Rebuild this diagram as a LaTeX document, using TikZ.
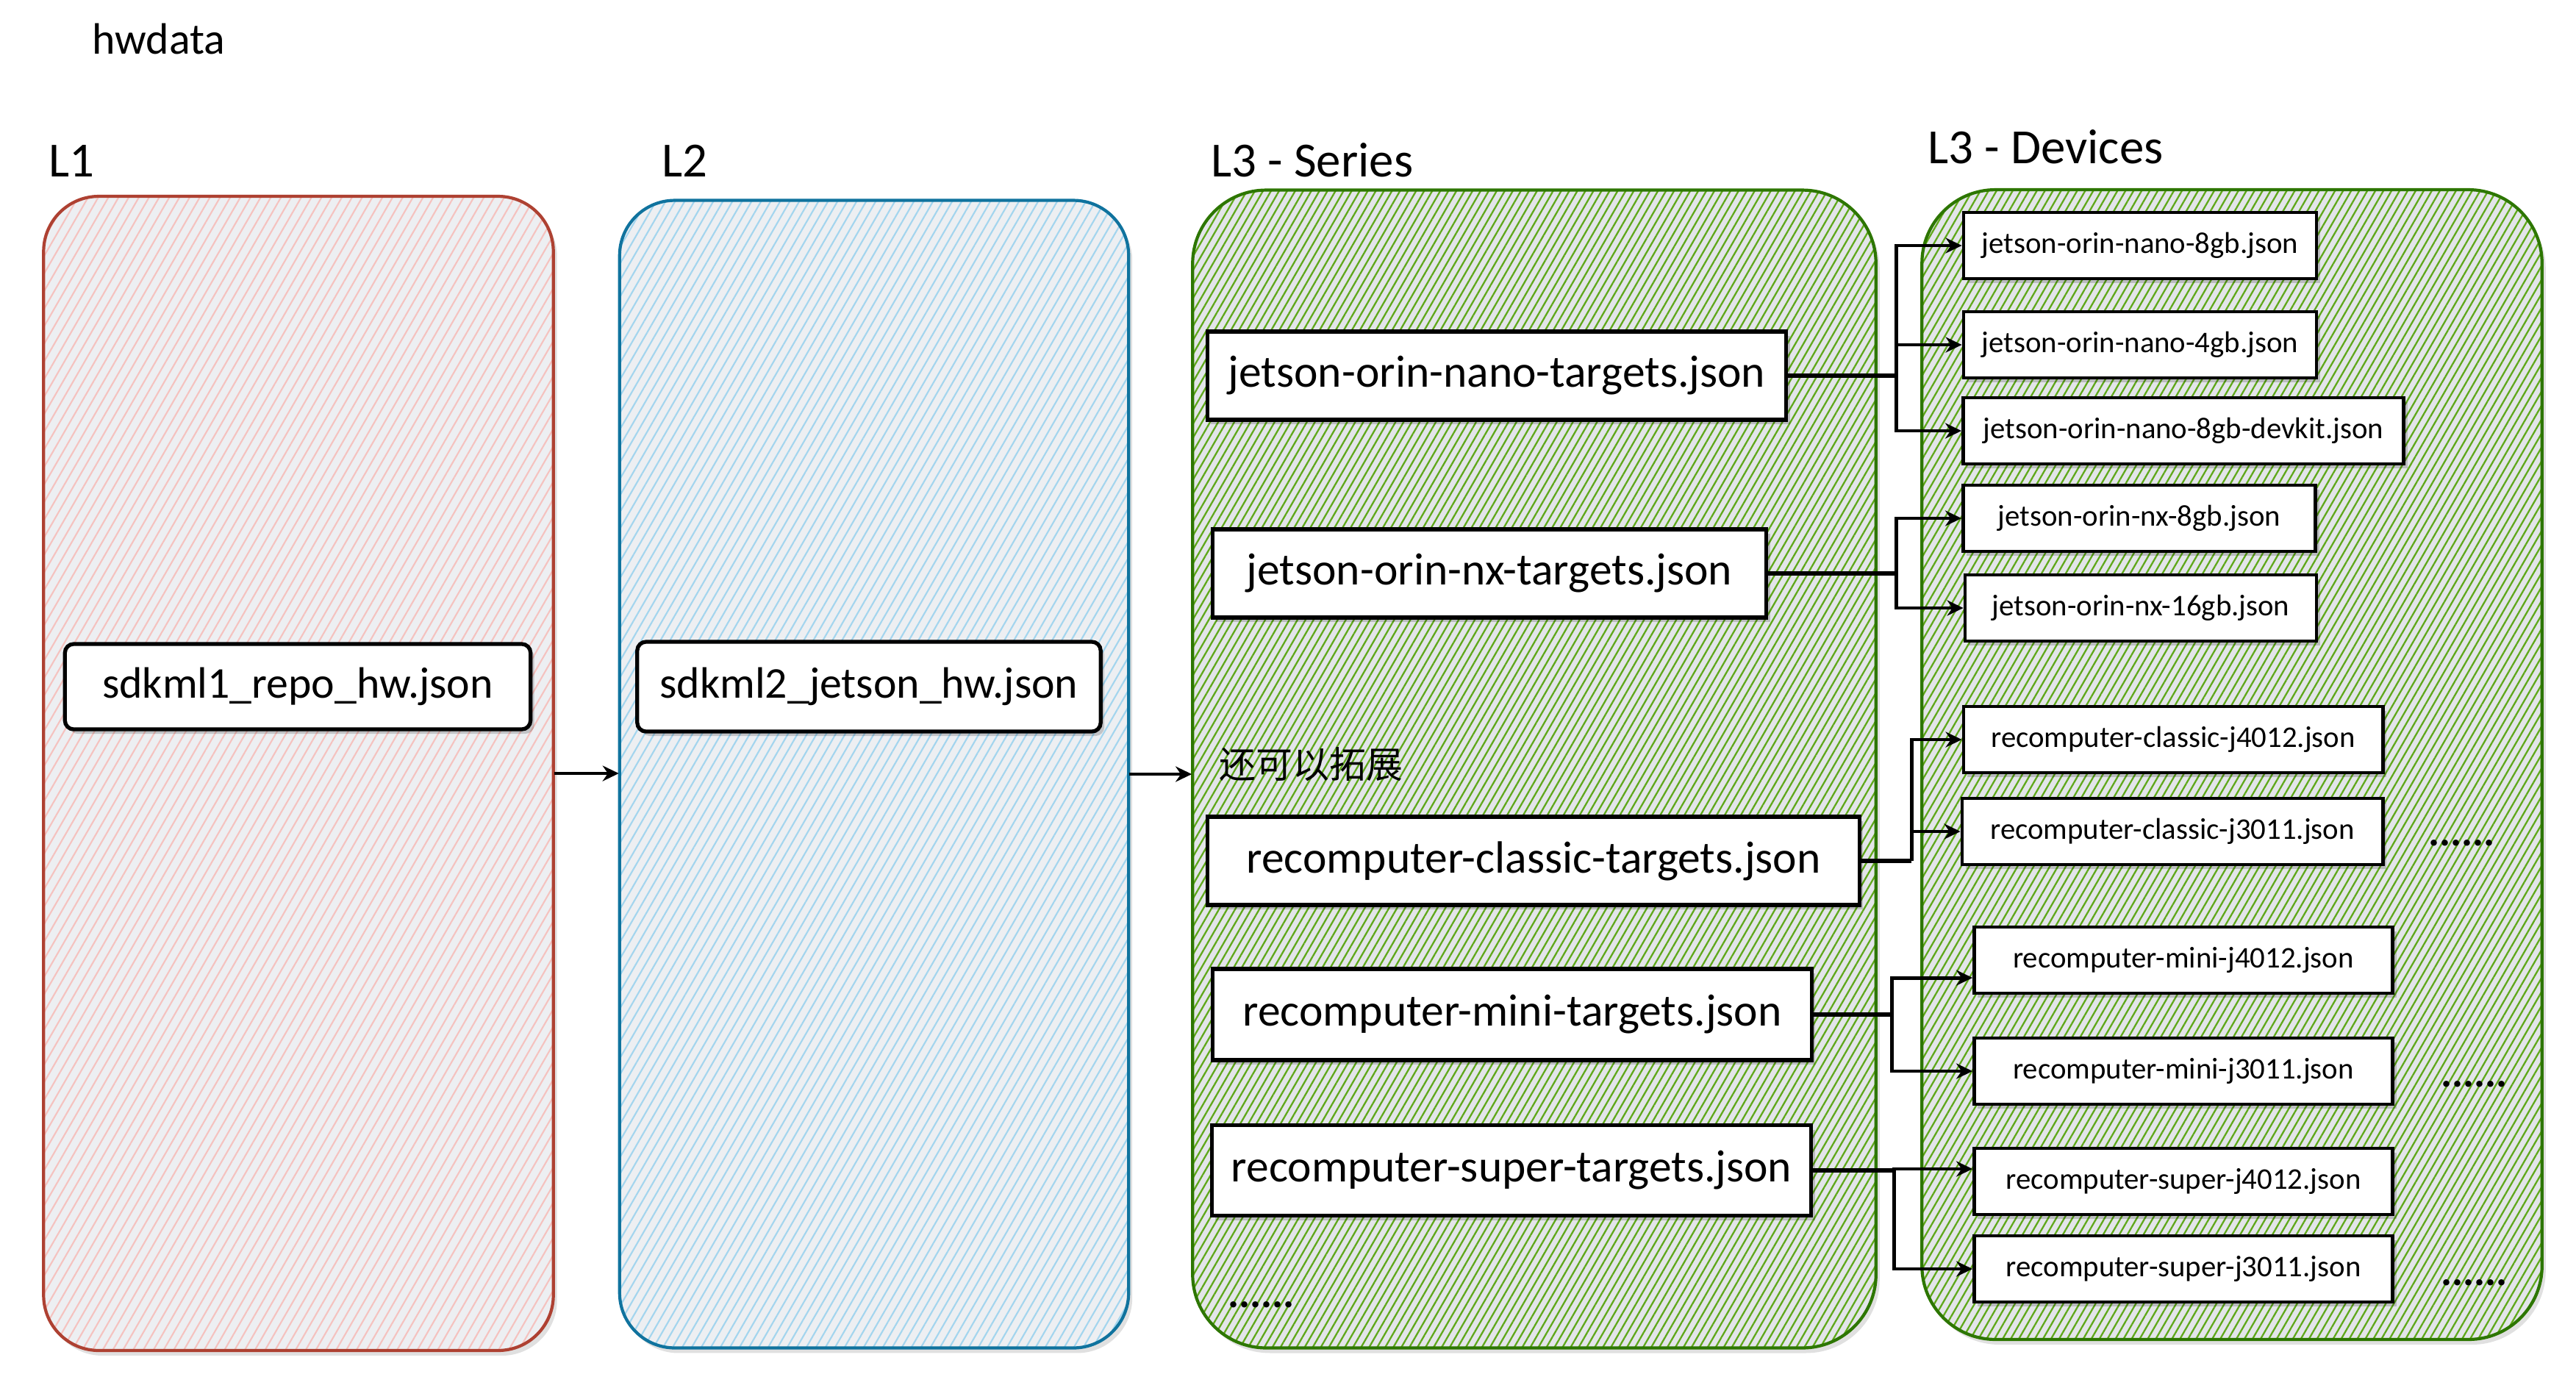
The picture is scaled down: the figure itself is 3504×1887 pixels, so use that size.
\documentclass[tikz,border=0pt]{standalone}
\usepackage{fontspec}
\setmainfont{Carlito}
\newfontfamily\cjk{Noto Sans CJK SC}
\usetikzlibrary{arrows.meta,patterns.meta,shadows,calc}
\definecolor{redS}{HTML}{AE4132}
\definecolor{redF}{HTML}{F5C2BF}
\definecolor{bluS}{HTML}{10739E}
\definecolor{bluF}{HTML}{A3D5EE}
\definecolor{grnS}{HTML}{2D7600}
\definecolor{grnF}{HTML}{5FA81A}
\definecolor{bgA}{HTML}{EDEFF2}
\definecolor{bgB}{HTML}{E3E5E9}
\begin{document}
\begin{tikzpicture}[x=0.01cm,y=-0.01cm,
  cont/.style n args={5}{draw=#1, line width=1.2pt, rounded corners=0.75cm, inner sep=0pt,
    drop shadow={shadow xshift=0.05cm, shadow yshift=-0.07cm, fill=black, opacity=0.12},
    preaction={fill=#3},
    pattern={Lines[angle=60,distance=#4,line width=#5]}, pattern color=#2},
  fbox/.style={draw=black, line width=1.5pt, fill=white, inner sep=0pt,
    drop shadow={shadow xshift=0.05cm, shadow yshift=-0.06cm, fill=black, opacity=0.18}},
  bigbox/.style={fbox, rounded corners=0.12cm, font=\fontsize{17}{20}\selectfont},
  sbox/.style={fbox, font=\fontsize{17.5}{20}\selectfont},
  dbox/.style={fbox, line width=1.3pt, minimum height=0.9cm, font=\fontsize{11.6}{14}\selectfont},
  lbl/.style={inner sep=0pt, anchor=base west, font=\fontsize{19}{22}\selectfont},
  dots/.style={inner sep=0pt, anchor=base west, font=\bfseries\fontsize{16}{18}\selectfont},
  conn/.style={draw=black, line width=1.4pt, -{Stealth[length=0.22cm,width=0.21cm]}},
  bus/.style={draw=black, line width=1.6pt}
]
\useasboundingbox (0,0) rectangle (3504,1887);

% containers
\node[cont={redS}{redF}{bgA}{3.4pt}{0.6pt}, minimum width=6.93cm, minimum height=15.69cm] (c1) at (406,1052) {};
\node[cont={bluS}{bluF}{bgA}{3.2pt}{0.6pt}, minimum width=6.92cm, minimum height=15.60cm] (c2) at (1189,1053) {};
\node[cont={grnS}{grnF}{bgB}{2.7pt}{0.65pt}, rounded corners=1cm, minimum width=9.29cm, minimum height=15.74cm] (c3) at (2087,1046) {};
\node[cont={grnS}{grnF}{bgB}{2.7pt}{0.65pt}, rounded corners=1cm, minimum width=8.43cm, minimum height=15.63cm] (c4) at (3036,1040) {};

% titles
\node[lbl, font=\fontsize{17}{20}\selectfont] (thw) at (125,73) {hwdata};
\node[lbl] (tl1) at (66,240) {L1};
\node[lbl] (tl2) at (900,240) {L2};
\node[lbl] (tl3) at (1647,240) {L3 - Series};
\node[lbl] (tl4) at (2622,222) {L3 - Devices};

% L1 / L2 nodes
\node[bigbox, minimum width=6.33cm, minimum height=1.16cm] (s1) at (405,934) {sdkml1\_repo\_hw.json};
\node[bigbox, minimum width=6.30cm, minimum height=1.22cm] (s2) at (1182,934) {sdkml2\_jetson\_hw.json};

% series
\node[sbox, minimum width=7.87cm, minimum height=1.20cm] (nano) at (2036,511) {jetson-orin-nano-targets.json};
\node[sbox, minimum width=7.53cm, minimum height=1.20cm] (nx) at (2026,780) {jetson-orin-nx-targets.json};
\node[sbox, minimum width=8.86cm, minimum height=1.20cm] (classic) at (2086,1171) {recomputer-classic-targets.json};
\node[sbox, minimum width=8.14cm, minimum height=1.24cm] (mini) at (2057,1380) {recomputer-mini-targets.json};
\node[sbox, minimum width=8.15cm, minimum height=1.23cm] (super) at (2056,1592) {recomputer-super-targets.json};

% devices
\node[dbox, minimum width=4.80cm] (d1) at (2911,334) {jetson-orin-nano-8gb.json};
\node[dbox, minimum width=4.80cm] (d2) at (2911,469) {jetson-orin-nano-4gb.json};
\node[dbox, minimum width=5.99cm] (d3) at (2970,586) {jetson-orin-nano-8gb-devkit.json};
\node[dbox, minimum width=4.79cm] (d4) at (2910,705) {jetson-orin-nx-8gb.json};
\node[dbox, minimum width=4.78cm] (d5) at (2912,827) {jetson-orin-nx-16gb.json};
\node[dbox, minimum width=5.70cm] (d6) at (2956,1006) {recomputer-classic-j4012.json};
\node[dbox, minimum width=5.72cm] (d7) at (2955,1131) {recomputer-classic-j3011.json};
\node[dbox, minimum width=5.69cm] (d8) at (2970,1306) {recomputer-mini-j4012.json};
\node[dbox, minimum width=5.69cm] (d9) at (2970,1457) {recomputer-mini-j3011.json};
\node[dbox, minimum width=5.69cm] (d10) at (2970,1607) {recomputer-super-j4012.json};
\node[dbox, minimum width=5.69cm] (d11) at (2970,1726) {recomputer-super-j3011.json};

% other texts
\node[inner sep=0pt, anchor=west, font=\cjk\fontsize{14.2}{16}\selectfont] (ext) at (1658,1040) {还可以拓展};
\node[dots] (dt1) at (3303,1150) {......};
\node[dots] (dt2) at (3320,1478) {......};
\node[dots] (dt3) at (3320,1748) {......};
\node[dots] (dt4) at (1670,1778) {......};

% level arrows
\draw[conn] (c1.east) -- (c1.east -| c2.west);
\draw[conn] (c2.east) -- (c2.east -| c3.west);

% series -> devices
\coordinate (bnano) at (2579,511);
\draw[bus] (nano.east) -- (bnano);
\draw[conn] (bnano) |- (d1.west);
\draw[conn] (bnano) |- (d2.west);
\draw[conn] (bnano) |- (d3.west);

\coordinate (bnx) at (2579,780);
\draw[bus] (nx.east) -- (bnx);
\draw[conn] (bnx) |- (d4.west);
\draw[conn] (bnx) |- (d5.west);

\coordinate (bcl) at (2600,1171);
\draw[bus] (classic.east) -- (bcl);
\draw[conn] (bcl) |- (d6.west);
\draw[conn] (bcl) |- (d7.west);

\coordinate (bmi) at (2573,1380);
\draw[bus] (mini.east) -- (bmi);
\draw[conn] (bmi) |- ([yshift=-0.24cm]d8.west);
\draw[conn] (bmi) |- (d9.west);

\coordinate (bsu) at (2576,1592);
\draw[bus] (super.east) -- (bsu);
\draw[conn] (bsu) |- ([yshift=0.17cm]d10.west);
\draw[conn] (bsu) |- (d11.west);
\end{tikzpicture}
\end{document}
